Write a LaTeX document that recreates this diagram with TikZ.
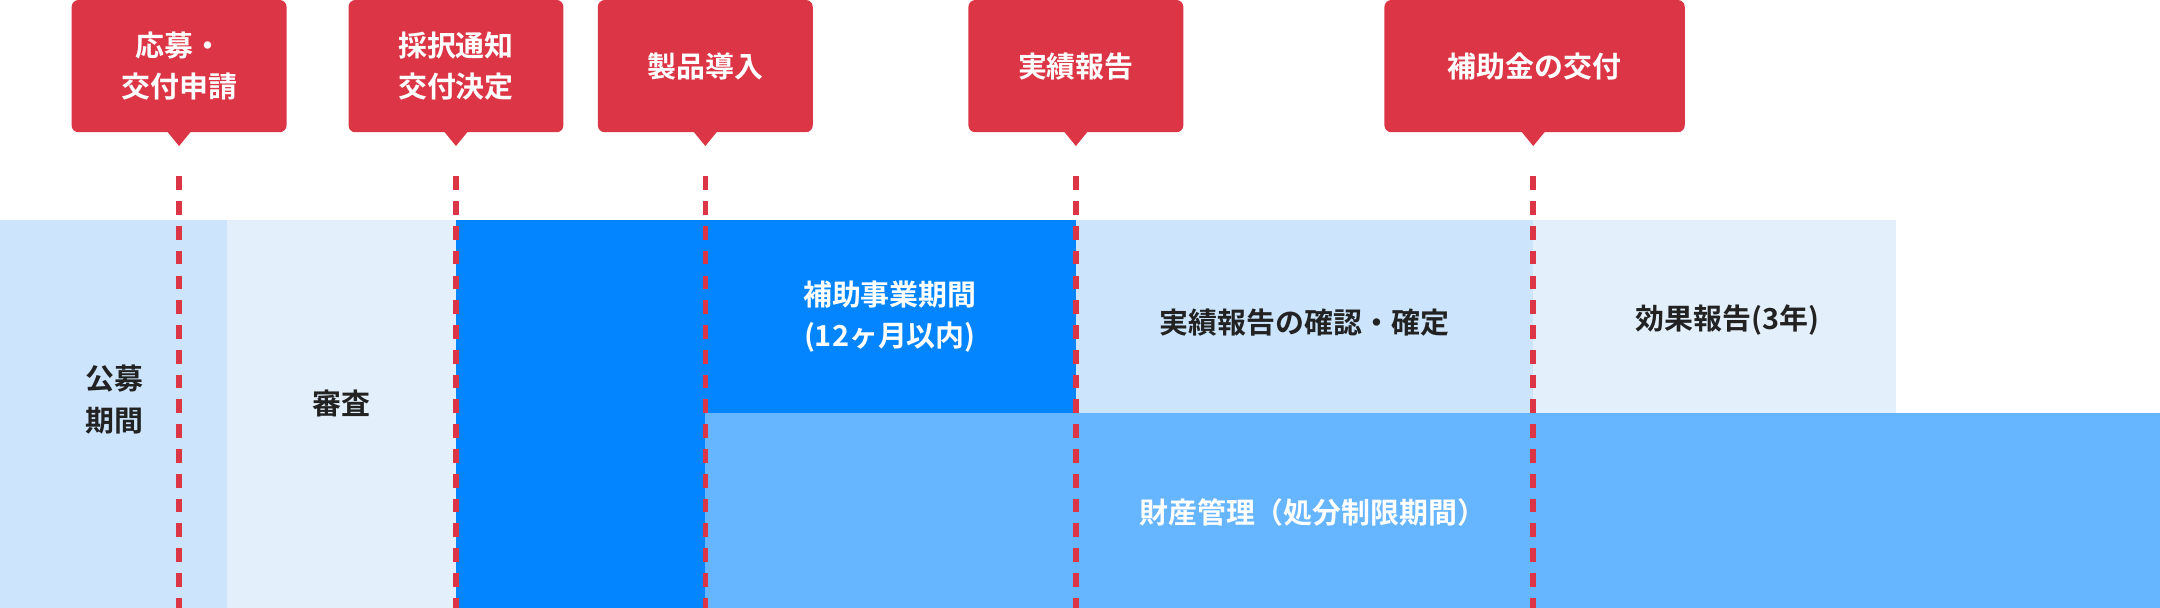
\documentclass[tikz,border=0pt]{standalone}
\usepackage{fontspec}
\newfontfamily\jp{Noto Sans CJK JP}[BoldFont={Noto Sans CJK JP Bold}]
\definecolor{cred}{HTML}{DC3545}
\definecolor{lb}{HTML}{CCE5FC}
\definecolor{vlb}{HTML}{E3F0FC}
\definecolor{db}{HTML}{0385FF}
\definecolor{mb}{HTML}{66B5FF}
\definecolor{tx}{HTML}{222222}
\begin{document}
\begin{tikzpicture}[x=1pt,y=-1pt,
  lbl/.style={font=\jp\bfseries\fontsize{21}{30}\selectfont,align=center,text=tx},
  wl/.style={lbl,text=white},
  call/.style={fill=cred,rounded corners=5pt},
  dl/.style={cred,line width=4pt,dash pattern=on 10pt off 8pt}]
\useasboundingbox (0,0) rectangle (1568,441);
% bands
\fill[lb] (0,160) rectangle (165,441);
\fill[vlb] (165,160) rectangle (331,441);
\fill[db] (331,160) rectangle (512,441);
\fill[db] (512,160) rectangle (781,300);
\fill[lb] (781,160) rectangle (1113,300);
\fill[vlb] (1113,160) rectangle (1376,300);
\fill[mb] (512,300) rectangle (1568,441);
\node[lbl] (b1) at (83,290) {公募\\期間};
\node[lbl] (b2) at (248,293) {審査};
\node[wl] (b3) at (646,230) {補助事業期間\\(12ヶ月以内)};
\node[lbl] (b4) at (947,234) {実績報告の確認・確定};
\node[lbl] (b5) at (1254,232) {効果報告(3年)};
\node[wl] (b6) at (953,372) {財産管理（処分制限期間）};
% callouts
\foreach \n/\a/\b/\p in {c1/52/208/130,c2/253/409/331,c3/434/590/512,c4/703/859/781,c5/1005/1223/1113}{
  \fill[call] (\a,0) rectangle (\b,96);
  \fill[cred] (\p-9,95) -- (\p+9,95) -- (\p,106) -- cycle;
  \coordinate (\n t) at (\p,128);
  \coordinate (\n b) at (\p,441);
  \draw[dl] (\n t) -- (\n b);
}
\node[wl] (t1) at (130,48) {応募・\\交付申請};
\node[wl] (t2) at (331,48) {採択通知\\交付決定};
\node[wl] (t3) at (512,48) {製品導入};
\node[wl] (t4) at (781,48) {実績報告};
\node[wl] (t5) at (1114,48) {補助金の交付};
\end{tikzpicture}
\end{document}
